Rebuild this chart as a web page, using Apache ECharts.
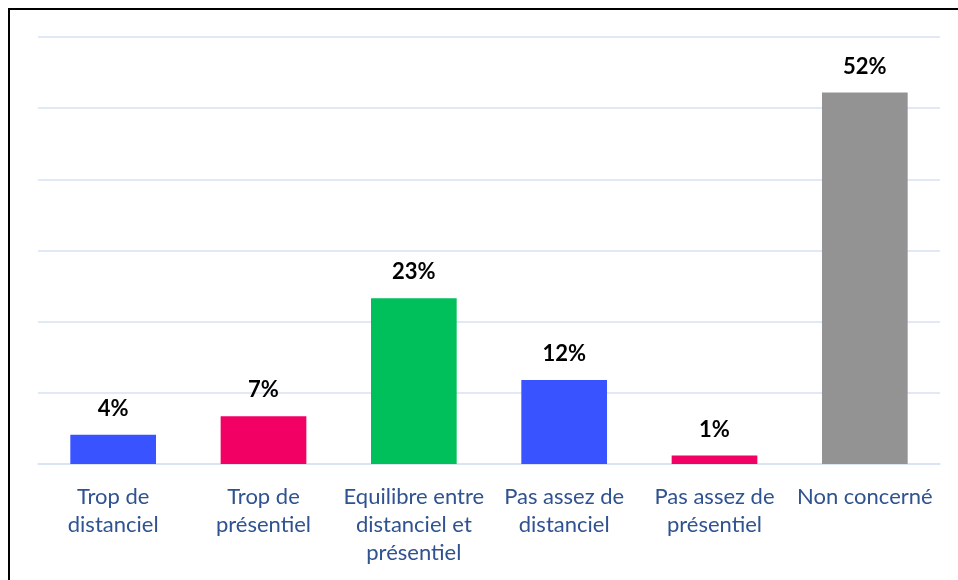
<!DOCTYPE html>
<html>
<head>
<meta charset="utf-8">
<script src="https://cdn.jsdelivr.net/npm/echarts@6/dist/echarts.min.js"></script>
<style>
html,body{margin:0;padding:0;background:#fff;}
#chart{width:958px;height:580px;}
</style>
</head>
<body>
<div id="chart"></div>
<script>
const categories = ["Trop de\ndistanciel", "Trop de\nprésentiel", "Equilibre entre\ndistanciel et\nprésentiel", "Pas assez de\ndistanciel", "Pas assez de\nprésentiel", "Non concerné"];
const values = [4.1, 6.7, 23.3, 11.8, 1.2, 52.2];
const barColors = ["#3853FF", "#F20064", "#00C05C", "#3853FF", "#F20064", "#939393"];
const yMin = 0, yMax = 60, yInterval = 10;

const chart = echarts.init(document.getElementById('chart'), null, {renderer: 'canvas'});
chart.setOption({
  animation: false,
  backgroundColor: '#ffffff',
  grid: {left: 38, right: 18, top: 37, bottom: 116},
  xAxis: {
    type: 'category',
    data: categories,
    axisLine: {show: true, lineStyle: {color: '#D9E2F3', width: 1.5}},
    axisTick: {show: false},
    axisLabel: {
      color: '#2F5290',
      fontFamily: 'Lato',
      fontSize: 22,
      lineHeight: 28,
      margin: 19,
      interval: 0
    }
  },
  yAxis: {
    type: 'value',
    min: yMin, max: yMax, interval: yInterval,
    axisLabel: {show: false},
    axisLine: {show: false},
    axisTick: {show: false},
    splitLine: {show: true, lineStyle: {color: '#D9E2F3', width: 1.5}}
  },
  series: [{
    type: 'bar',
    data: values.map((v, i) => ({value: v, itemStyle: {color: barColors[i]}})),
    barWidth: '57%',
    label: {
      show: true,
      position: 'top',
      distance: 15,
      formatter: p => Math.round(p.value) + '%',
      color: '#000',
      fontFamily: 'Lato',
      fontWeight: 'bold',
      fontSize: 22
    }
  }],
  graphic: [
    {type: 'line', shape: {x1: 9, y1: 9, x2: 958, y2: 9}, style: {stroke: '#000', lineWidth: 2}},
    {type: 'line', shape: {x1: 9, y1: 8, x2: 9, y2: 580}, style: {stroke: '#000', lineWidth: 2}}
  ]
});
</script>
</body>
</html>
